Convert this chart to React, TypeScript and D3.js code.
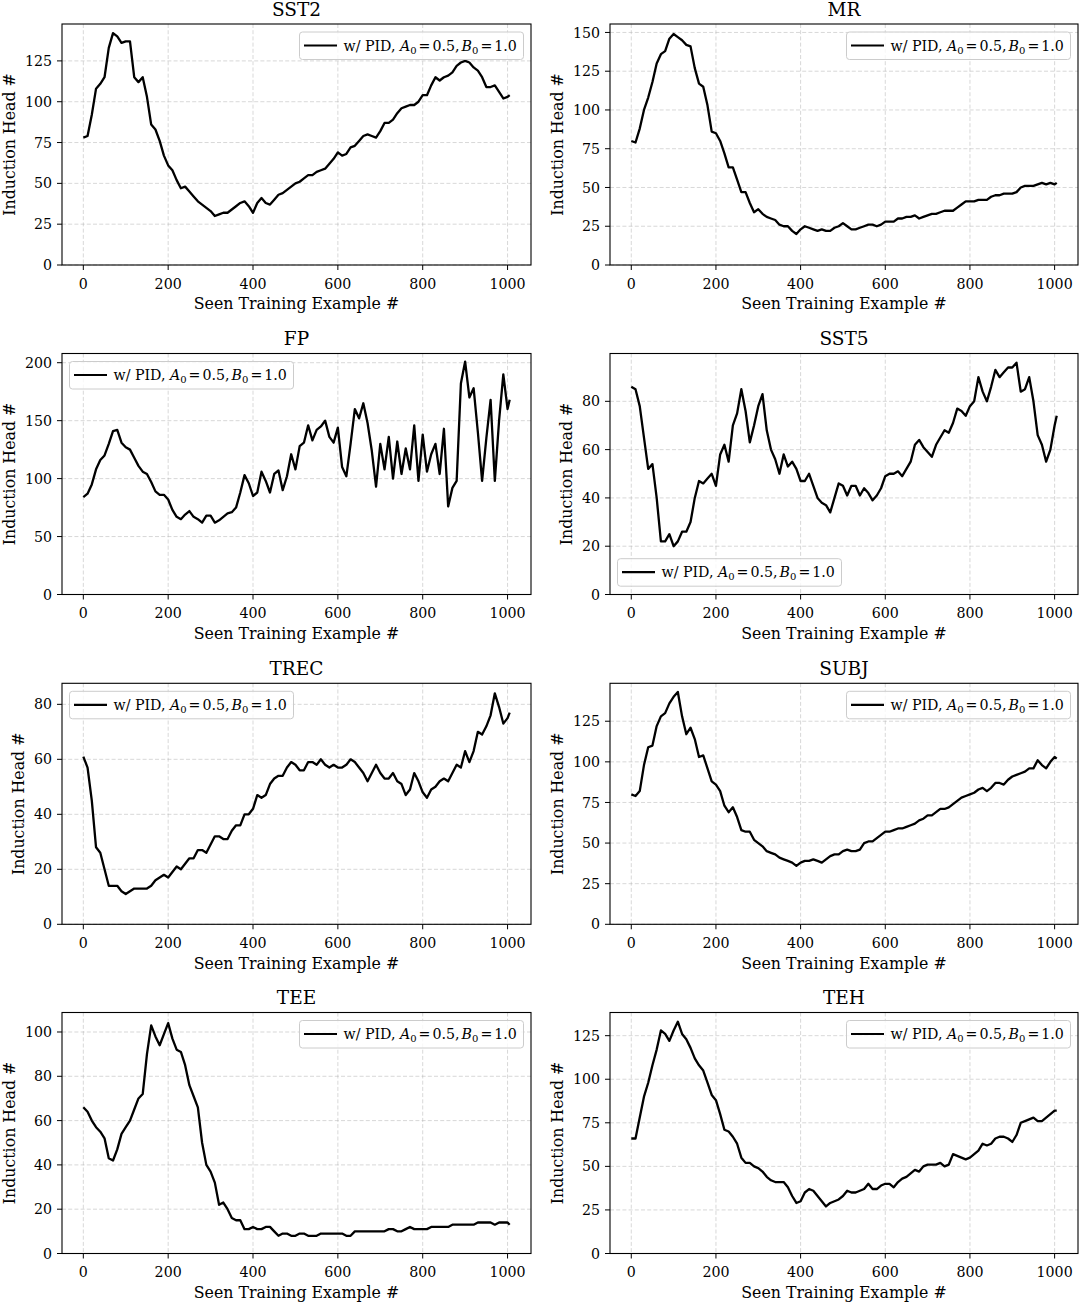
import * as d3 from "d3";

// x positions of the recorded points (every 10 examples, last one at 1005)
const steps = [...d3.range(0, 1001, 10), 1005];
const xTicks = [0, 200, 400, 600, 800, 1000];

const sst2 = [
  78, 79, 92, 108, 111, 115, 133, 142, 140, 136,
  137, 137, 115, 112, 115, 103, 86, 83, 76, 67,
  61, 58, 52, 47, 48, 45, 42, 39, 37, 35,
  33, 30, 31, 32, 32, 34, 36, 38, 39, 36,
  32, 38, 41, 38, 37, 40, 43, 44, 46, 48,
  50, 51, 53, 55, 55, 57, 58, 59, 62, 65,
  69, 67, 68, 72, 73, 76, 79, 80, 79, 78,
  82, 87, 87, 89, 93, 96, 97, 98, 98, 100,
  104, 104, 110, 115, 113, 115, 116, 118, 122, 124,
  125, 124, 121, 119, 115, 109, 109, 110, 106, 102,
  103, 104,
];

const mr = [
  80, 79, 88, 100, 108, 118, 130, 136, 138, 146,
  149, 147, 145, 142, 141, 127, 117, 115, 103, 86,
  85, 80, 72, 63, 63, 55, 47, 47, 40, 34,
  36, 33, 31, 30, 29, 26, 25, 25, 22, 20,
  23, 25, 24, 23, 22, 23, 22, 22, 24, 25,
  27, 25, 23, 23, 24, 25, 26, 26, 25, 26,
  28, 28, 28, 30, 30, 31, 31, 32, 30, 31,
  32, 33, 33, 34, 35, 35, 35, 37, 39, 41,
  41, 41, 42, 42, 42, 44, 45, 45, 46, 46,
  46, 47, 50, 51, 51, 51, 52, 53, 52, 53,
  52, 53,
];

const fp = [
  84, 87, 95, 108, 116, 120, 130, 141, 142, 131,
  127, 125, 118, 111, 106, 104, 97, 89, 86, 86,
  82, 73, 67, 65, 69, 72, 67, 65, 62, 68,
  68, 62, 64, 67, 70, 71, 75, 88, 103, 96,
  85, 88, 106, 98, 88, 104, 107, 90, 102, 121,
  108, 128, 131, 146, 133, 142, 145, 150, 136, 131,
  144, 110, 102, 130, 160, 152, 165, 148, 124, 93,
  130, 108, 136, 100, 132, 104, 126, 108, 146, 98,
  138, 106, 121, 130, 104, 143, 76, 92, 98, 182,
  201, 170, 178, 140, 98, 135, 168, 98, 150, 190,
  160, 168,
];

const sst5 = [
  86, 85, 78, 65, 52, 54, 40, 22, 22, 25,
  20, 22, 26, 26, 30, 40, 47, 46, 48, 50,
  45, 58, 62, 55, 70, 75, 85, 76, 63, 70,
  78, 83, 68, 60, 56, 50, 58, 53, 55, 52,
  47, 47, 50, 45, 40, 38, 37, 34, 40, 46,
  45, 41, 45, 45, 41, 44, 42, 39, 41, 44,
  49, 50, 50, 51, 49, 52, 55, 62, 64, 61,
  59, 57, 62, 65, 68, 67, 71, 77, 76, 74,
  78, 80, 90, 84, 80, 86, 93, 90, 92, 94,
  94, 96, 84, 85, 90, 80, 66, 62, 55, 60,
  70, 74,
];

const trec = [
  61, 57, 45, 28, 26, 20, 14, 14, 14, 12,
  11, 12, 13, 13, 13, 13, 14, 16, 17, 18,
  17, 19, 21, 20, 22, 24, 24, 27, 27, 26,
  29, 32, 32, 31, 31, 34, 36, 36, 40, 40,
  42, 47, 46, 47, 51, 53, 54, 54, 57, 59,
  58, 56, 56, 59, 59, 58, 60, 58, 57, 58,
  57, 57, 58, 60, 59, 57, 55, 52, 55, 58,
  55, 53, 53, 55, 52, 51, 47, 49, 55, 52,
  48, 46, 49, 50, 52, 53, 52, 55, 58, 57,
  63, 59, 63, 70, 69, 72, 76, 84, 79, 73,
  75, 77,
];

const subj = [
  80, 79, 82, 98, 109, 110, 122, 128, 130, 136,
  140, 143, 128, 117, 121, 114, 103, 104, 96, 88,
  86, 82, 73, 69, 72, 66, 58, 57, 57, 52,
  50, 48, 45, 44, 43, 41, 40, 39, 38, 36,
  38, 39, 39, 40, 39, 38, 40, 42, 43, 43,
  45, 46, 45, 45, 46, 50, 51, 51, 53, 55,
  57, 57, 58, 59, 59, 60, 61, 62, 64, 65,
  67, 67, 69, 71, 71, 72, 74, 76, 78, 79,
  80, 81, 83, 84, 82, 84, 87, 87, 86, 89,
  91, 92, 93, 94, 96, 96, 101, 98, 96, 100,
  103, 102,
];

const tee = [
  66, 64, 60, 57, 55, 52, 43, 42, 47, 54,
  57, 60, 65, 70, 72, 90, 103, 98, 94, 99,
  104, 97, 92, 91, 85, 76, 71, 66, 50, 40,
  37, 32, 22, 23, 20, 16, 15, 15, 11, 11,
  12, 11, 11, 12, 12, 10, 8, 9, 9, 8,
  8, 9, 9, 8, 8, 8, 9, 9, 9, 9,
  9, 9, 8, 8, 10, 10, 10, 10, 10, 10,
  10, 10, 11, 11, 10, 10, 11, 12, 11, 11,
  11, 11, 12, 12, 12, 12, 12, 13, 13, 13,
  13, 13, 13, 14, 14, 14, 14, 13, 14, 14,
  14, 13,
];

const teh = [
  66, 66, 78, 90, 98, 108, 117, 128, 126, 122,
  128, 133, 126, 123, 118, 112, 108, 105, 98, 91,
  88, 80, 71, 70, 67, 63, 55, 52, 52, 50,
  49, 47, 44, 42, 41, 41, 41, 38, 33, 29,
  30, 35, 37, 36, 33, 30, 27, 29, 30, 31,
  33, 36, 35, 35, 36, 37, 40, 37, 37, 39,
  40, 40, 38, 41, 43, 44, 46, 48, 47, 50,
  51, 51, 51, 52, 50, 51, 57, 56, 55, 54,
  55, 57, 59, 63, 62, 63, 66, 67, 67, 66,
  64, 68, 75, 76, 77, 78, 76, 76, 78, 80,
  82, 82,
];

const titles = ["SST2", "MR", "FP", "SST5", "TREC", "SUBJ", "TEE", "TEH"];
const series = [sst2, mr, fp, sst5, trec, subj, tee, teh];
const yTicks = [
  [0, 25, 50, 75, 100, 125],
  [0, 25, 50, 75, 100, 125, 150],
  [0, 50, 100, 150, 200],
  [0, 20, 40, 60, 80],
  [0, 20, 40, 60, 80],
  [0, 25, 50, 75, 100, 125],
  [0, 20, 40, 60, 80, 100],
  [0, 25, 50, 75, 100, 125],
];
// legend corner per panel
const legendLoc = ["ur", "ur", "ul", "ll", "ul", "ur", "ur", "ur"];

const W = 1080;
const H = 1302;
const colLeft = [62, 610];
const colRight = [531, 1078];
const rowTop = [24, 353.5, 683.3, 1012.5];
const plotH = 241;
const FONT = "DejaVu Serif";
const TICK_FS = 14.2;
const LABEL_FS = 15.8;

function Legend({ x, y }: { x: number; y: number }) {
  const w = 224;
  const h = 27.5;
  return (
    <g>
      <rect x={x} y={y} width={w} height={h} rx={3} fill="#fff" fillOpacity={0.8} stroke="#cccccc" strokeWidth={1} />
      <line x1={x + 4.5} x2={x + 37.5} y1={y + 13.5} y2={y + 13.5} stroke="#000" strokeWidth={2.2} />
      <text x={x + 44} y={y + 18.5} fontFamily={FONT} fontSize={14.2} fill="#000">
        {"w/ PID, "}
        <tspan fontStyle="italic">A</tspan>
        <tspan fontSize={10} dy={3}>0</tspan>
        <tspan dy={-3} dx={2}>=</tspan>
        <tspan dx={2}>{"0.5,"}</tspan>
        <tspan fontStyle="italic" dx={2}>B</tspan>
        <tspan fontSize={10} dy={3}>0</tspan>
        <tspan dy={-3} dx={2}>=</tspan>
        <tspan dx={2}>1.0</tspan>
      </text>
    </g>
  );
}

function Panel({ idx }: { idx: number }) {
  const col = idx % 2;
  const row = Math.floor(idx / 2);
  const left = colLeft[col];
  const right = colRight[col];
  const top = rowTop[row];
  const bottom = top + plotH;
  const values = series[idx];
  const ticks = yTicks[idx];

  const x = d3.scaleLinear().domain([-50.25, 1055.25]).range([left, right]);
  const vmax = d3.max(values)!;
  const vmin = d3.min(values)!;
  const y = d3
    .scaleLinear()
    .domain([0, vmax + 0.05 * (vmax - vmin)])
    .range([bottom, top]);

  const line = d3
    .line<number>()
    .x((_, i) => x(steps[i]))
    .y((d) => y(d));

  // ylabel sits left of the widest tick label, like matplotlib
  const maxDigits = d3.max(ticks, (t) => String(t).length)!;
  const yLabelX = left - 10 - maxDigits * 0.636 * TICK_FS - 9.5;
  const midY = (top + bottom) / 2;

  const loc = legendLoc[idx];
  const legX = loc === "ur" ? right - 7.5 - 224 : left + 7.5;
  const legY = loc === "ll" ? bottom - 8.3 - 27.5 : top + 8;

  return (
    <g>
      <text x={(left + right) / 2} y={top - 8.5} textAnchor="middle" fontFamily={FONT} fontSize={18.5}>
        {titles[idx]}
      </text>
      {/* grid */}
      {xTicks.map((t) => (
        <line key={"gx" + t} x1={x(t)} x2={x(t)} y1={top} y2={bottom} stroke="#b0b0b0" strokeOpacity={0.55} strokeWidth={0.9} strokeDasharray="4,2.2" />
      ))}
      {ticks.map((t) => (
        <line key={"gy" + t} x1={left} x2={right} y1={y(t)} y2={y(t)} stroke="#b0b0b0" strokeOpacity={0.55} strokeWidth={0.9} strokeDasharray="4,2.2" />
      ))}
      <path d={line(values)!} fill="none" stroke="#000" strokeWidth={2.3} strokeLinejoin="round" />
      {/* spines */}
      <rect x={left} y={top} width={right - left} height={plotH} fill="none" stroke="#000" strokeWidth={1.1} />
      {/* x ticks */}
      {xTicks.map((t) => (
        <g key={"tx" + t}>
          <line x1={x(t)} x2={x(t)} y1={bottom} y2={bottom + 5} stroke="#000" strokeWidth={1} />
          <text x={x(t)} y={bottom + 23.5} textAnchor="middle" fontFamily={FONT} fontSize={TICK_FS}>
            {t}
          </text>
        </g>
      ))}
      {/* y ticks */}
      {ticks.map((t) => (
        <g key={"ty" + t}>
          <line x1={left - 5} x2={left} y1={y(t)} y2={y(t)} stroke="#000" strokeWidth={1} />
          <text x={left - 10} y={y(t)} dy="0.36em" textAnchor="end" fontFamily={FONT} fontSize={TICK_FS}>
            {t}
          </text>
        </g>
      ))}
      <text x={(left + right) / 2} y={bottom + 44.3} textAnchor="middle" fontFamily={FONT} fontSize={LABEL_FS}>
        Seen Training Example #
      </text>
      <text
        transform={`translate(${yLabelX},${midY}) rotate(-90)`}
        textAnchor="middle"
        fontFamily={FONT}
        fontSize={LABEL_FS}
      >
        Induction Head #
      </text>
      <Legend x={legX} y={legY} />
    </g>
  );
}

export default function App() {
  return (
    <svg
      width={W}
      height={H}
      viewBox={`0 0 ${W} ${H}`}
      style={{ position: "absolute", left: 0, top: 0, background: "#fff" }}
    >
      <rect width={W} height={H} fill="#fff" />
      {titles.map((_, i) => (
        <Panel key={i} idx={i} />
      ))}
    </svg>
  );
}
